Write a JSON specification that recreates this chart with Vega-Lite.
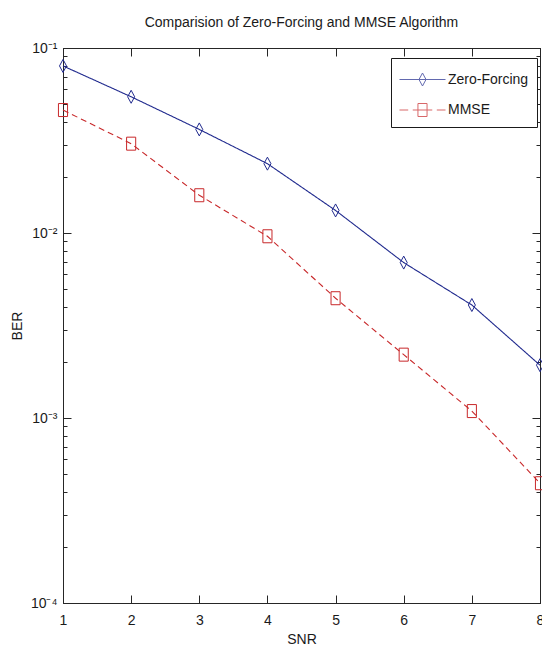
{
  "$schema": "https://vega.github.io/schema/vega-lite/v6.json",
  "width": 477,
  "height": 555,
  "autosize": {"type": "none"},
  "padding": {"left": 63, "top": 48, "right": 2, "bottom": 56},
  "background": "white",
  "config": {
    "view": {"stroke": "#262626", "strokeWidth": 1},
    "font": "Liberation Sans, Arial, sans-serif",
    "axis": {
      "grid": false,
      "domainColor": "#262626",
      "tickColor": "#262626",
      "labelColor": "#1a1a1a",
      "titleColor": "#1a1a1a",
      "labelFont": "Liberation Sans, Arial, sans-serif",
      "titleFont": "Liberation Sans, Arial, sans-serif",
      "labelFontSize": 14,
      "titleFontSize": 14,
      "titleFontWeight": "normal",
      "labelFlush": false,
      "labelBound": false,
      "labelOverlap": false
    }
  },
  "title": {
    "text": "Comparision of Zero-Forcing and MMSE Algorithm",
    "font": "Liberation Sans, Arial, sans-serif",
    "fontSize": 14,
    "fontWeight": "normal",
    "color": "#1a1a1a",
    "anchor": "middle",
    "baseline": "alphabetic",
    "offset": 20,
    "dy": 20
  },
  "data": {
    "values": [
      {"snr": 1, "ber": 0.080, "series": "Zero-Forcing"},
      {"snr": 2, "ber": 0.0545, "series": "Zero-Forcing"},
      {"snr": 3, "ber": 0.0363, "series": "Zero-Forcing"},
      {"snr": 4, "ber": 0.0237, "series": "Zero-Forcing"},
      {"snr": 5, "ber": 0.01324, "series": "Zero-Forcing"},
      {"snr": 6, "ber": 0.00692, "series": "Zero-Forcing"},
      {"snr": 7, "ber": 0.00408, "series": "Zero-Forcing"},
      {"snr": 8, "ber": 0.00193, "series": "Zero-Forcing"},
      {"snr": 1, "ber": 0.0462, "series": "MMSE"},
      {"snr": 2, "ber": 0.0304, "series": "MMSE"},
      {"snr": 3, "ber": 0.0160, "series": "MMSE"},
      {"snr": 4, "ber": 0.0096, "series": "MMSE"},
      {"snr": 5, "ber": 0.00444, "series": "MMSE"},
      {"snr": 6, "ber": 0.0022, "series": "MMSE"},
      {"snr": 7, "ber": 0.00109, "series": "MMSE"},
      {"snr": 8, "ber": 0.000444, "series": "MMSE"}
    ]
  },
  "layer": [
    {
      "mark": {"type": "line", "strokeWidth": 1.1},
      "encoding": {
        "x": {
          "field": "snr", "type": "quantitative",
          "scale": {"domain": [1, 8], "nice": false, "zero": false},
          "axis": {"orient": "bottom", "values": [1, 2, 3, 4, 5, 6, 7, 8], "tickSize": -8, "labelPadding": 18, "title": "SNR", "titlePadding": 5, "format": "d"}
        },
        "y": {
          "field": "ber", "type": "quantitative",
          "scale": {"type": "log", "domain": [0.0001, 0.1], "nice": false},
          "axis": {
            "orient": "left",
            "values": [0.0001, 0.0002, 0.0003, 0.0004, 0.0005, 0.0006, 0.0007, 0.0008, 0.0009, 0.001, 0.002, 0.003, 0.004, 0.005, 0.006, 0.007, 0.008, 0.009, 0.01, 0.02, 0.03, 0.04, 0.05, 0.06, 0.07, 0.08, 0.09, 0.1],
            "tickSize": {"condition": {"test": "abs(log(datum.value)/LN10 - round(log(datum.value)/LN10)) < 0.000001", "value": -8}, "value": -4},
            "labelExpr": "abs(log(datum.value)/LN10 - round(log(datum.value)/LN10)) < 0.000001 ? ('10' + ['⁻¹','⁻²','⁻³','⁻⁴'][-round(log(datum.value)/LN10) - 1]) : ''",
            "labelPadding": 14,
            "title": "BER",
            "titlePadding": 6
          }
        },
        "color": {"field": "series", "type": "nominal", "scale": {"domain": ["Zero-Forcing", "MMSE"], "range": ["#202a8e", "#c8282a"]}, "legend": null},
        "strokeDash": {"field": "series", "type": "nominal", "scale": {"domain": ["Zero-Forcing", "MMSE"], "range": [[1, 0], [6, 4]]}, "legend": null}
      }
    },
    {
      "mark": {"type": "point", "filled": false, "size": 169, "strokeWidth": 1, "opacity": 1},
      "encoding": {
        "x": {
          "field": "snr", "type": "quantitative",
          "axis": {"orient": "top", "values": [1, 2, 3, 4, 5, 6, 7, 8], "tickSize": -8, "labels": false, "title": null}
        },
        "y": {
          "field": "ber", "type": "quantitative",
          "axis": {
            "orient": "right",
            "values": [0.0001, 0.0002, 0.0003, 0.0004, 0.0005, 0.0006, 0.0007, 0.0008, 0.0009, 0.001, 0.002, 0.003, 0.004, 0.005, 0.006, 0.007, 0.008, 0.009, 0.01, 0.02, 0.03, 0.04, 0.05, 0.06, 0.07, 0.08, 0.09, 0.1],
            "tickSize": {"condition": {"test": "abs(log(datum.value)/LN10 - round(log(datum.value)/LN10)) < 0.000001", "value": -8}, "value": -4},
            "labels": false,
            "title": null
          }
        },
        "color": {"field": "series", "type": "nominal", "scale": {"domain": ["Zero-Forcing", "MMSE"], "range": ["#202a8e", "#c8282a"]}, "legend": null},
        "shape": {"field": "series", "type": "nominal", "scale": {"domain": ["Zero-Forcing", "MMSE"], "range": ["M0,-1L0.54,0L0,1L-0.54,0Z", "M-0.7,-1H0.7V1H-0.7Z"]}, "legend": null}
      }
    },
    {
      "transform": [{"filter": "false"}],
      "mark": {"type": "point", "filled": false, "strokeWidth": 1},
      "encoding": {
        "x": {"field": "snr", "type": "quantitative", "axis": null},
        "y": {"field": "ber", "type": "quantitative", "axis": null},
        "color": {
          "field": "series", "type": "nominal",
          "scale": {"domain": ["Zero-Forcing", "MMSE"], "range": ["#202a8e", "#c8282a"]},
          "legend": {"title": null, "orient": "none", "legendX": 328, "legendY": 10, "symbolSize": 676, "symbolOffset": 10, "symbolStrokeWidth": 1, "labelFontSize": 14, "labelColor": "#1a1a1a", "labelFont": "Liberation Sans, Arial, sans-serif", "labelOffset": 12, "padding": 8, "rowPadding": 8.5, "fillColor": "white", "strokeColor": "#1a1a1a"}
        },
        "shape": {
          "field": "series", "type": "nominal",
          "scale": {"domain": ["Zero-Forcing", "MMSE"], "range": ["M-1.77,0H1.77M0,-0.5L0.27,0L0,0.5L-0.27,0Z", "M-1.77,0H-1.1M-0.75,0H0.75M1.1,0H1.77M-0.35,-0.5H0.35V0.5H-0.35Z"]},
          "legend": {"title": null, "orient": "none", "legendX": 328, "legendY": 10, "symbolSize": 676, "symbolOffset": 10, "symbolStrokeWidth": 1, "labelFontSize": 14, "labelColor": "#1a1a1a", "labelFont": "Liberation Sans, Arial, sans-serif", "labelOffset": 12, "padding": 8, "rowPadding": 8.5, "fillColor": "white", "strokeColor": "#1a1a1a"}
        }
      }
    }
  ],
  "resolve": {
    "scale": {"color": "independent", "shape": "independent", "strokeDash": "independent"},
    "axis": {"x": "independent", "y": "independent"}
  }
}
